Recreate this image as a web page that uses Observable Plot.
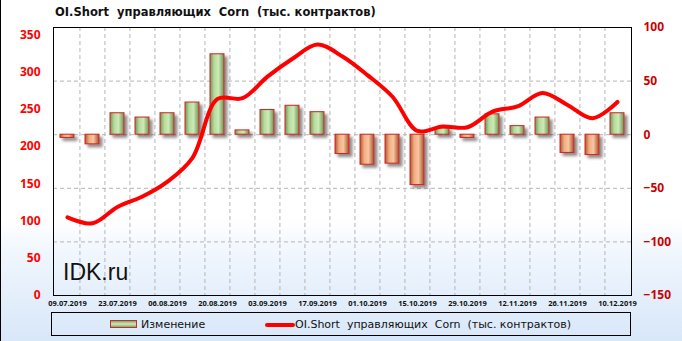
<!DOCTYPE html>
<html>
<head>
<meta charset="utf-8">
<script src="https://cdn.jsdelivr.net/npm/d3@7"></script>
<script src="https://cdn.jsdelivr.net/npm/@observablehq/plot@0.6"></script>
<style>
  html, body { margin: 0; padding: 0; }
  #wrap { position: relative; width: 682px; height: 341px; overflow: hidden;
    background: linear-gradient(to bottom, #ffffff 0%, #ffffff 64%, #eef5fd 76%, #d8e7f9 100%);
    border-left: 1px solid #000; box-sizing: border-box; font-family: "DejaVu Sans", sans-serif; }
  #title { position: absolute; left: 54px; top: 5px; font-size: 11.5px; font-weight: bold; color: #111; white-space: pre; }
  #chart { position: absolute; left: -1px; top: 20px; }
  #wm { position: absolute; left: 62px; top: 259px; font-family: "Liberation Sans", Arial, sans-serif; font-size: 23px; color: #111; }
  #legend { position: absolute; left: 50px; top: 312px; width: 580px; height: 24px; border: 1px solid #000; box-sizing: border-box; font-size: 11px; color: #111; }
  .sw { position: absolute; }
  .lt { position: absolute; top: 5px; white-space: pre; }
</style>
</head>
<body>
<div id="wrap">
  <div id="chart"></div>
  <div id="title">OI.Short  управляющих  Corn  (тыс. контрактов)</div>
  <div id="wm">IDK.ru</div>
  <div id="legend">
    <div class="sw" style="left:58px;top:7px;width:27px;height:8px;border:1px solid #c03030;box-sizing:border-box;background:linear-gradient(to bottom,#7fa866,#cfeab8 50%,#7fa866);"></div>
    <div class="lt" style="left:89px;">Изменение</div>
    <div class="sw" style="left:213px;top:10px;width:30px;height:4px;border-radius:2px;background:#ff0000;"></div>
    <div class="lt" style="left:243px;">OI.Short  управляющих  Corn  (тыс. контрактов)</div>
  </div>
</div>
<script>
const dates = ["09.07.2019","16.07.2019","23.07.2019","30.07.2019","06.08.2019","13.08.2019","20.08.2019","27.08.2019","03.09.2019","10.09.2019","17.09.2019","24.09.2019","01.10.2019","08.10.2019","15.10.2019","22.10.2019","29.10.2019","05.11.2019","12.11.2019","19.11.2019","26.11.2019","03.12.2019","10.12.2019"];
const changes = [-3,-9,20,16,20,30,75,4,23,27,21,-18,-28,-27,-47,6,-3,19,8,16,-17,-19,20];
const oiShort = [105,97,119,133,153,185,264,265,294,318,337,321,296,267,221,227,226,247,254,272,256,238,260];
const leftTicks = [0,50,100,150,200,250,300,350];
const rightTicks = [-150,-100,-50,0,50,100];
const gridTicks = [-100,-50,0,50];
const xTickLabels = dates.filter((d,i) => i % 2 === 0);
const leftMax = 360, rightMin = -150, rightMax = 100;

const toRight = v => rightMin + v * (rightMax - rightMin) / leftMax;
const toLeft = r => (r - rightMin) * leftMax / (rightMax - rightMin);

const rows = dates.map((d,i) => ({date: d, change: changes[i], oi: oiShort[i]}));

const W = 682, mL = 53, mR = 51;
const step = (W - mL - mR) / dates.length;

const plot = Plot.plot({
  width: W, height: 290,
  marginLeft: mL, marginRight: mR, marginTop: 7, marginBottom: 15,
  style: {background: "transparent", overflow: "visible"},
  x: {type: "band", domain: dates, paddingInner: 0.44, paddingOuter: 0.22, axis: null},
  y: {domain: [rightMin, rightMax], axis: null},
  marks: [
    Plot.gridX(dates.slice(1), {stroke: "#b5b5b5", strokeOpacity: 1, strokeDasharray: "4,3", dx: -step/2}),
    Plot.gridY(gridTicks, {stroke: "#b5b5b5", strokeOpacity: 1, strokeDasharray: "4,3"}),
    Plot.barY(rows, {filter: d => d.change >= 0, x: "date", y1: 0, y2: "change", fill: "url(#gGreen)", stroke: "#d42020", strokeWidth: 1}),
    Plot.barY(rows, {filter: d => d.change < 0, x: "date", y1: 0, y2: "change", fill: "url(#gOrange)", stroke: "#d42020", strokeWidth: 1}),
    Plot.line(rows, {x: "date", y: d => toRight(d.oi), stroke: "#ff0000", strokeWidth: 4, curve: "catmull-rom", strokeLinecap: "round"}),
    Plot.frame({stroke: "#000", strokeWidth: 1}),
    Plot.axisY(leftTicks.map(toRight), {anchor: "left", label: null, tickSize: 0, tickPadding: 13, tickFormat: r => String(Math.round(toLeft(r))), fill: "#ff0000", fontSize: 12, fontWeight: "bold"}),
    Plot.axisY(rightTicks, {anchor: "right", label: null, tickSize: 0, tickPadding: 12, fill: "#cc0000", fontSize: 12, fontWeight: "bold"}),
    Plot.axisX(xTickLabels, {anchor: "bottom", label: null, tickSize: 0, tickPadding: 5, fill: "#111", fontSize: 7.5, fontWeight: "bold"})
  ]
});

plot.insertAdjacentHTML("afterbegin", `<defs>
  <linearGradient id="gGreen" x1="0" x2="1" y1="0" y2="0">
    <stop offset="0" stop-color="#6f9858"/><stop offset="0.3" stop-color="#b6da9c"/>
    <stop offset="0.6" stop-color="#cdeab6"/><stop offset="1" stop-color="#6a9453"/>
  </linearGradient>
  <linearGradient id="gOrange" x1="0" x2="1" y1="0" y2="0">
    <stop offset="0" stop-color="#a85c34"/><stop offset="0.3" stop-color="#f2ad82"/>
    <stop offset="0.6" stop-color="#f8c6a0"/><stop offset="1" stop-color="#a05430"/>
  </linearGradient>
  <filter id="shadow" x="-30%" y="-30%" width="170%" height="170%">
    <feDropShadow dx="3" dy="3" stdDeviation="1.6" flood-color="#000" flood-opacity="0.45"/>
  </filter>
</defs>`);
plot.querySelectorAll('g[aria-label="bar"]').forEach(g => g.setAttribute("filter", "url(#shadow)"));

document.getElementById("chart").appendChild(plot);
</script>
</body>
</html>
